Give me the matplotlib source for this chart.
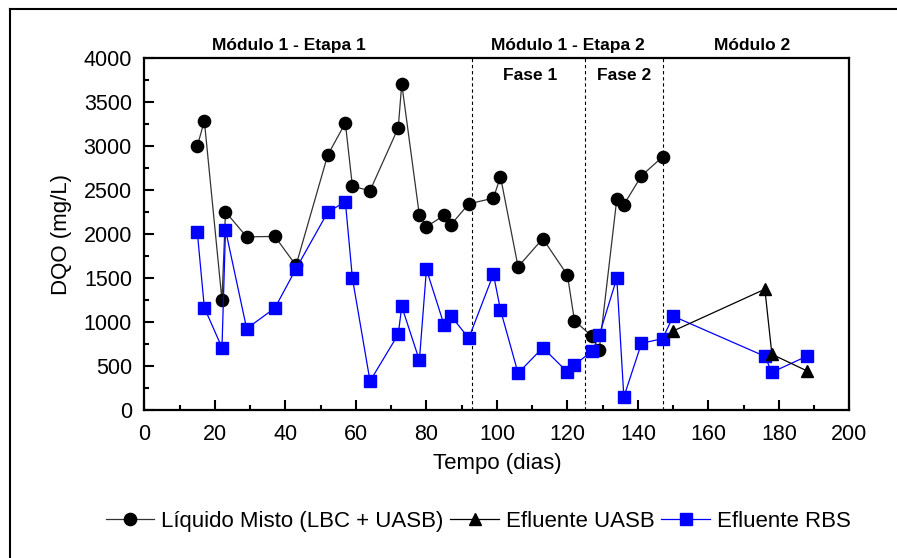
import matplotlib.pyplot as plt
import numpy as np
from matplotlib.lines import Line2D
from matplotlib.ticker import MultipleLocator

plt.rcParams['font.family'] = ['Liberation Sans', 'DejaVu Sans']

# Liquido Misto (LBC + UASB)
lm_dias = [15, 17, 22, 23, 29, 37, 43, 52, 57, 59, 64, 72, 73, 78, 80, 85, 87, 92,
           99, 101, 106, 113, 120, 122, 127, 129, 134, 136, 141, 147]
lm_dqo = [3000, 3290, 1250, 2255, 1970, 1975, 1645, 2900, 3265, 2545, 2495, 3210, 3710,
          2215, 2085, 2215, 2110, 2345, 2410, 2655, 1630, 1950, 1535, 1015, 840, 680,
          2400, 2335, 2665, 2880]

# Efluente UASB
uasb_dias = [150, 176, 178, 188]
uasb_dqo = [900, 1375, 635, 445]

# Efluente RBS
rbs_dias = [15, 17, 22, 23, 29, 37, 43, 52, 57, 59, 64, 72, 73, 78, 80, 85, 87, 92,
            99, 101, 106, 113, 120, 122, 127, 129, 134, 136, 141, 147, 150, 176, 178, 188]
rbs_dqo = [2025, 1165, 710, 2050, 927, 1160, 1607, 2250, 2370, 1500, 330, 862, 1180,
           566, 1600, 970, 1070, 817, 1546, 1140, 420, 710, 433, 513, 672, 851, 1500,
           150, 760, 813, 1068, 612, 430, 615]

divisoes = [93, 125, 147]

fig = plt.figure(figsize=(8.97, 5.58), dpi=100)
ax = fig.add_axes([0.161, 0.265, 0.786, 0.6305])

ax.plot(lm_dias, lm_dqo, '-', color='#333333', lw=0.9, marker='o', ms=8.8,
        mfc='black', mec='black', label='Líquido Misto (LBC + UASB)', zorder=3)
ax.plot(uasb_dias, uasb_dqo, '-', color='black', lw=0.9, marker='^', ms=9,
        mfc='black', mec='black', label='Efluente UASB', zorder=4)
ax.plot(rbs_dias, rbs_dqo, '-', color='blue', lw=0.9, marker='s', ms=8,
        mfc='blue', mec='blue', label='Efluente RBS', zorder=3)

for d in divisoes:
    ax.axvline(d, color='black', lw=0.8, ls=(0, (3, 2.5)), zorder=1)

ax.set_xlim(0, 200)
ax.set_ylim(0, 4000)
ax.xaxis.set_major_locator(MultipleLocator(20))
ax.xaxis.set_minor_locator(MultipleLocator(10))
ax.yaxis.set_major_locator(MultipleLocator(500))
ax.yaxis.set_minor_locator(MultipleLocator(250))
ax.tick_params(which='both', direction='in', width=1.5, labelsize=15.5)
ax.tick_params(axis='y', which='major', length=7, pad=9)
ax.tick_params(axis='x', which='major', length=7, pad=10)
ax.tick_params(which='minor', length=3.5)
for s in ax.spines.values():
    s.set_linewidth(1.6)

ax.set_xlabel('Tempo (dias)', fontsize=16, labelpad=6)
ax.set_ylabel('DQO (mg/L)', fontsize=16, labelpad=8)

tr = ax.get_xaxis_transform()
ax.text(41, 1.035, 'Módulo 1 - Etapa 1', transform=tr, ha='center', va='center',
        fontsize=12.5, fontweight='bold')
ax.text(120, 1.035, 'Módulo 1 - Etapa 2', transform=tr, ha='center', va='center',
        fontsize=12.5, fontweight='bold')
ax.text(172.5, 1.035, 'Módulo 2', transform=tr, ha='center', va='center',
        fontsize=12.5, fontweight='bold')
ax.text(109.3, 3800, 'Fase 1', ha='center', va='center', fontsize=12.5, fontweight='bold')
ax.text(136.1, 3800, 'Fase 2', ha='center', va='center', fontsize=12.5, fontweight='bold')

fig.legend(loc='center', bbox_to_anchor=(0.533, 0.066), ncol=3, frameon=False,
           fontsize=16, handlelength=2.2, handletextpad=0.3, columnspacing=0.3,
           borderaxespad=0)

# moldura externa (so esquerda e topo aparecem)
fig.add_artist(Line2D([10/897, 10/897], [0, 1 - 9/558], color='black', lw=1.5,
                      transform=fig.transFigure))
fig.add_artist(Line2D([10/897, 1], [1 - 9/558, 1 - 9/558], color='black', lw=1.5,
                      transform=fig.transFigure))

fig.savefig('out.png', dpi=100)
